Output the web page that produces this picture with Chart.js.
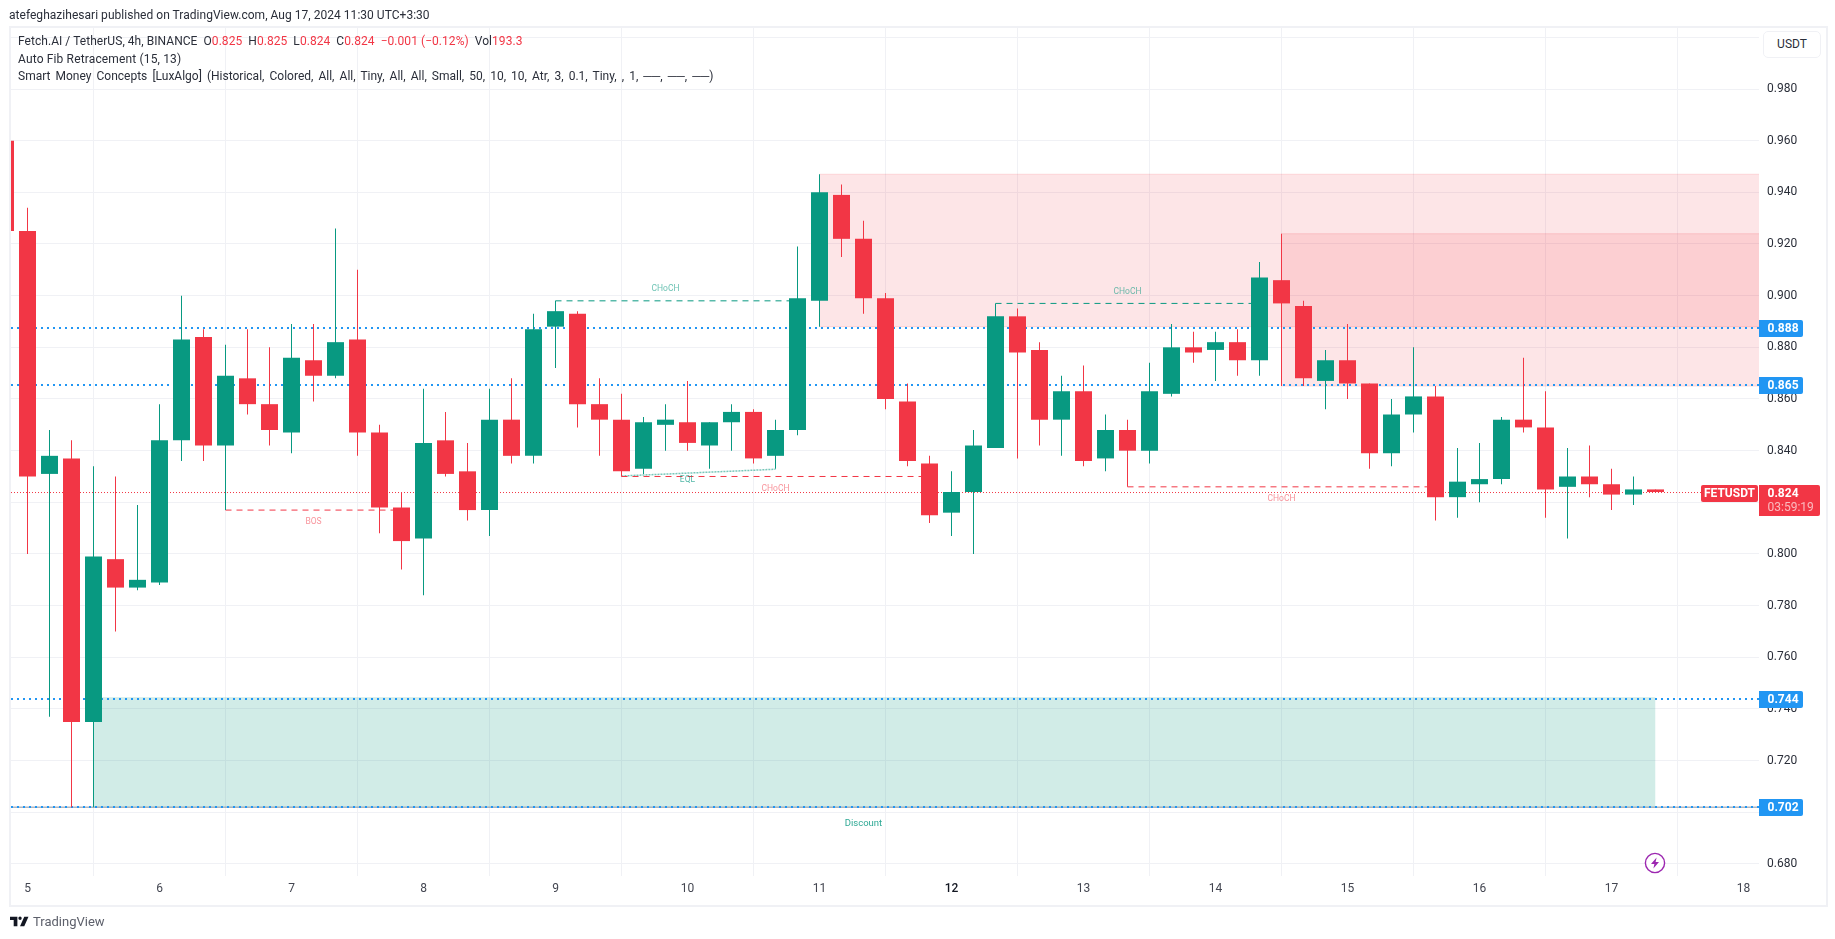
<!DOCTYPE html>
<html>
<head>
<meta charset="utf-8">
<title>FETUSDT</title>
<script src="https://cdn.jsdelivr.net/npm/chart.js@4/dist/chart.umd.js"></script>
<style>
    html, body { margin: 0; padding: 0; background: #fff; }
    body { width: 1835px; height: 939px; position: relative; overflow: hidden; font-family: Roboto, sans-serif; color: #131722; }
    canvas { position: absolute; left: 0; top: 0; }
    .txt { position: absolute; font-size: 12px; line-height: 16px; white-space: nowrap; color: #2a2e39; }
    .red { color: #f23645; }
    #frame { position: absolute; left: 9px; top: 26px; width: 1815px; height: 877px; border: 2px solid #f0f1f5; pointer-events: none; }
    #usdt { position: absolute; left: 1763px; top: 31px; width: 56px; height: 25px; border: 1px solid #f0f1f5; border-radius: 5px; background: #fff; font-size: 12px; line-height: 25px; padding-left: 0; text-align: center; color: #2a2e39; }
    #logo { position: absolute; left: 10px; top: 915px; }
    #brand { position: absolute; left: 33px; top: 913px; font-size: 13px; line-height: 17px; color: #5d606b; }
    #bolt { position: absolute; left: 1644px; top: 852px; }
</style>
</head>
<body>
<canvas id="chart" width="1835" height="939"></canvas>
<div id="frame"></div>
<div class="txt" style="left:9px;top:7px;letter-spacing:0.03px">atefeghazihesari published on TradingView.com, Aug 17, 2024 11:30 UTC+3:30</div>
<div class="txt" style="left:18px;top:33px;letter-spacing:0.05px">Fetch.AI / TetherUS, 4h, BINANCE &nbsp;O<span class="red">0.825</span> &nbsp;H<span class="red">0.825</span> &nbsp;L<span class="red">0.824</span> &nbsp;C<span class="red">0.824</span> &nbsp;<span class="red">−0.001 (−0.12%)</span> &nbsp;Vol<span class="red">193.3</span></div>
<div class="txt" style="left:18px;top:51px;letter-spacing:0.15px">Auto Fib Retracement (15, 13)</div>
<div class="txt" style="left:18px;top:68px;word-spacing:2.1px">Smart Money Concepts [LuxAlgo] (Historical, Colored, All, All, Tiny, All, All, Small, 50, 10, 10, Atr, 3, 0.1, Tiny, , 1, ──, ──, ──)</div>
<div id="usdt">USDT</div>
<svg id="bolt" width="22" height="22" viewBox="0 0 22 22">
    <circle cx="11" cy="11" r="9.6" fill="#fff" stroke="#9c27b0" stroke-width="1.4"/>
    <path d="M12.6 5.5 L7 12 H10.4 L9.4 16.5 L15 10 H11.6 Z" fill="#9c27b0"/>
</svg>
<svg id="logo" width="19" height="13" viewBox="0 0 36 24">
    <path d="M14 3H0v6h7v12h7V3zm13 18h-8l8-18h8l-8 18zM19 9a3.2 3.2 0 1 0 0-6.400a3.200 3.200 0 0 0 0 6.400z" fill="#131722"/>
</svg>
<div id="brand">TradingView</div>
<script>
// Candles, one every 4 hours, the first one is cut off by the left edge
const firstDay = 5 - 1 / 6;
const barsPerDay = 6;
const opens = [0.960, 0.925, 0.831, 0.837, 0.735, 0.798, 0.787, 0.789, 0.844, 0.884, 0.842, 0.868, 0.858, 0.847, 0.875, 0.869, 0.883, 0.847, 0.818, 0.806, 0.844, 0.832, 0.817, 0.852, 0.838, 0.888, 0.893, 0.858, 0.852, 0.833, 0.850, 0.851, 0.842, 0.851, 0.855, 0.838, 0.848, 0.898, 0.939, 0.922, 0.899, 0.859, 0.835, 0.816, 0.824, 0.841, 0.892, 0.879, 0.852, 0.863, 0.837, 0.848, 0.840, 0.862, 0.880, 0.879, 0.882, 0.875, 0.906, 0.896, 0.867, 0.875, 0.866, 0.839, 0.854, 0.861, 0.822, 0.827, 0.829, 0.852, 0.849, 0.826, 0.830, 0.827, 0.823, 0.825];
const highs = [0.960, 0.934, 0.848, 0.844, 0.834, 0.830, 0.819, 0.858, 0.900, 0.887, 0.881, 0.887, 0.880, 0.889, 0.889, 0.926, 0.910, 0.850, 0.824, 0.864, 0.855, 0.843, 0.864, 0.868, 0.893, 0.898, 0.894, 0.868, 0.862, 0.853, 0.858, 0.867, 0.851, 0.858, 0.856, 0.852, 0.919, 0.947, 0.943, 0.929, 0.901, 0.866, 0.838, 0.832, 0.848, 0.897, 0.895, 0.882, 0.869, 0.873, 0.854, 0.852, 0.874, 0.889, 0.886, 0.886, 0.887, 0.913, 0.924, 0.898, 0.879, 0.889, 0.866, 0.860, 0.880, 0.865, 0.841, 0.843, 0.853, 0.876, 0.863, 0.841, 0.842, 0.833, 0.830, 0.825];
const lows = [0.925, 0.800, 0.737, 0.702, 0.702, 0.770, 0.786, 0.788, 0.836, 0.836, 0.817, 0.854, 0.842, 0.839, 0.859, 0.868, 0.838, 0.808, 0.794, 0.784, 0.830, 0.813, 0.807, 0.835, 0.835, 0.872, 0.849, 0.838, 0.830, 0.831, 0.840, 0.840, 0.833, 0.840, 0.835, 0.833, 0.846, 0.888, 0.915, 0.893, 0.856, 0.834, 0.812, 0.807, 0.800, 0.841, 0.837, 0.842, 0.838, 0.834, 0.832, 0.826, 0.835, 0.861, 0.874, 0.867, 0.869, 0.869, 0.865, 0.865, 0.856, 0.860, 0.833, 0.834, 0.847, 0.813, 0.814, 0.820, 0.827, 0.847, 0.814, 0.806, 0.822, 0.817, 0.819, 0.824];
const closes = [0.925, 0.830, 0.838, 0.735, 0.799, 0.787, 0.790, 0.844, 0.883, 0.842, 0.869, 0.858, 0.848, 0.876, 0.869, 0.882, 0.847, 0.818, 0.805, 0.843, 0.831, 0.817, 0.852, 0.838, 0.887, 0.894, 0.858, 0.852, 0.832, 0.851, 0.852, 0.843, 0.851, 0.855, 0.837, 0.848, 0.899, 0.940, 0.922, 0.899, 0.860, 0.836, 0.815, 0.824, 0.842, 0.892, 0.878, 0.852, 0.863, 0.836, 0.848, 0.840, 0.863, 0.880, 0.878, 0.882, 0.875, 0.907, 0.897, 0.868, 0.875, 0.866, 0.839, 0.854, 0.861, 0.822, 0.828, 0.829, 0.852, 0.849, 0.825, 0.830, 0.827, 0.823, 0.825, 0.824];

// Fib levels (unrounded) and their axis labels, then last price
const fibLevels = [0.88748, 0.86542, 0.74387, 0.70207];
const fibLabels = ['0.888', '0.865', '0.744', '0.702'];
const lastPrice = 0.8238;
const lastLabel = '0.824';
const symbolName = 'FETUSDT';
const countdown = '03:59:19';

// Order block zones, bar index where they start and end
const supplyStarts = [37, 58];
const supplyTops = [0.947, 0.924];
const supplyBottoms = [0.888, 0.865];
const demandStart = 4;
const demandEnd = 75;
const demandTop = 0.7445;
const demandBottom = 0.702;
const discountLabel = 'Discount';

// Market structure breaks
const structureNames = ['BOS', 'CHoCH', 'CHoCH', 'CHoCH', 'CHoCH'];
const structurePrices = [0.817, 0.898, 0.830, 0.897, 0.826];
const structureStarts = [10, 25, 28, 45, 51];
const structureEnds = [18, 36, 42, 57, 65];
const structureBullish = [false, true, false, true, false];

// Equal lows
const eqlName = 'EQL';
const eqlStart = 28;
const eqlEnd = 35;
const eqlPrices = [0.8302, 0.8328];

const upColor = '#089981';
const downColor = '#f23645';
const fibColor = '#2196f3';
const gridColor = '#f0f1f5';

const barDay = (i) => firstDay + i / barsPerDay;
const minDay = 4.875;
const maxDay = minDay + 1748 / 132;
const pairLine = (i0, i1, y0, y1) => [{ x: barDay(i0), y: y0 }, { x: barDay(i1), y: y1 }];
const spanLine = (y) => [{ x: minDay, y: y }, { x: maxDay, y: y }];

const barColors = closes.map((c, i) => (c >= opens[i] ? upColor : downColor));

const datasets = [];

// Zones sit behind everything else
supplyStarts.forEach((start, i) => {
    const zoneStyle = { type: 'line', pointRadius: 0, borderWidth: 1, borderColor: 'rgba(242,54,69,0.15)', order: 9 };
    datasets.push({ ...zoneStyle, data: [{ x: barDay(start), y: supplyTops[i] }, { x: maxDay, y: supplyTops[i] }], fill: { value: supplyBottoms[i] }, backgroundColor: 'rgba(242,54,69,0.13)' });
    datasets.push({ ...zoneStyle, data: [{ x: barDay(start), y: supplyBottoms[i] }, { x: maxDay, y: supplyBottoms[i] }], fill: false });
});
datasets.push({ type: 'line', data: pairLine(demandStart, demandEnd, demandTop, demandTop), fill: { value: demandBottom }, backgroundColor: 'rgba(8,153,129,0.19)', borderWidth: 0, pointRadius: 0, order: 9 });

// Grey line under the swing low
datasets.push({ type: 'line', data: spanLine(demandBottom), borderColor: '#8a919e', borderWidth: 1, pointRadius: 0, fill: false, order: 8 });

// Fib lines and last price line
fibLevels.forEach((level) => {
    datasets.push({ type: 'line', data: spanLine(level), borderColor: fibColor, borderWidth: 2, borderDash: [2, 4], pointRadius: 0, fill: false, order: 7 });
});
datasets.push({ type: 'line', data: spanLine(lastPrice), borderColor: downColor, borderWidth: 1, borderDash: [1, 2], pointRadius: 0, fill: false, order: 7 });

// Structure lines
structureNames.forEach((name, i) => {
    datasets.push({
        type: 'line',
        data: pairLine(structureStarts[i], structureEnds[i], structurePrices[i], structurePrices[i]),
        borderColor: structureBullish[i] ? upColor : downColor,
        borderWidth: 1,
        borderDash: [6, 5],
        pointRadius: 0,
        fill: false,
        order: 6,
    });
});
datasets.push({ type: 'line', data: pairLine(eqlStart, eqlEnd, eqlPrices[0], eqlPrices[1]), borderColor: 'rgba(8,153,129,0.55)', borderWidth: 1.5, borderDash: [2, 1], pointRadius: 0, fill: false, order: 6 });

// Candles, wicks first then bodies
datasets.push({
    type: 'bar',
    data: closes.map((c, i) => ({ x: barDay(i), y: [lows[i], highs[i]] })),
    backgroundColor: barColors,
    grouped: false,
    barThickness: 1,
    maxBarThickness: 1,
    inflateAmount: 0,
    order: 2,
});
datasets.push({
    type: 'bar',
    data: closes.map((c, i) => ({ x: barDay(i), y: [opens[i], c] })),
    backgroundColor: barColors,
    grouped: false,
    barThickness: 17,
    maxBarThickness: 17,
    inflateAmount: 0,
    order: 1,
});

// Small texts on the pane and the boxes on the price axis
const overlayPlugin = {
    id: 'overlay',
    afterDatasetsDraw(chart) {
        const { ctx, scales: { x, y } } = chart;
        ctx.save();
        ctx.textAlign = 'center';
        ctx.textBaseline = 'middle';

        ctx.font = '8.5px Roboto';
        structureNames.forEach((name, i) => {
            const mid = Math.floor((structureStarts[i] + structureEnds[i]) / 2);
            const offset = structureBullish[i] ? -12 : 12;
            ctx.fillStyle = structureBullish[i] ? 'rgba(8,153,129,0.6)' : 'rgba(242,54,69,0.55)';
            ctx.fillText(name, x.getPixelForValue(barDay(mid)), y.getPixelForValue(structurePrices[i]) + offset);
        });
        ctx.fillStyle = 'rgba(8,153,129,0.7)';
        ctx.fillText(eqlName, x.getPixelForValue(barDay(Math.floor((eqlStart + eqlEnd) / 2))), y.getPixelForValue(eqlPrices[0]) + 4);

        ctx.font = '9.5px Roboto';
        ctx.fillStyle = 'rgba(8,153,129,0.85)';
        ctx.fillText(discountLabel, x.getPixelForValue(barDay(Math.floor((demandStart + demandEnd) / 2))), y.getPixelForValue(demandBottom) + 16);
        ctx.restore();
    },
    afterDraw(chart) {
        const { ctx, scales: { y } } = chart;
        const axisLeft = y.left;
        ctx.save();
        ctx.textBaseline = 'middle';
        ctx.textAlign = 'left';

        fibLevels.forEach((level, i) => {
            const py = Math.round(y.getPixelForValue(level));
            ctx.fillStyle = fibColor;
            ctx.beginPath();
            ctx.roundRect(axisLeft, py - 8, 44, 17, [0, 2, 2, 0]);
            ctx.fill();
            ctx.fillStyle = '#fff';
            ctx.font = 'bold 12px Roboto';
            ctx.fillText(fibLabels[i], axisLeft + 8.5, py + 1);
        });

        const py = Math.round(y.getPixelForValue(lastPrice));
        ctx.fillStyle = downColor;
        ctx.beginPath();
        ctx.roundRect(axisLeft - 58, py - 8, 57, 17, 2);
        ctx.fill();
        ctx.beginPath();
        ctx.roundRect(axisLeft, py - 8, 61, 31, [0, 2, 2, 0]);
        ctx.fill();

        ctx.fillStyle = '#fff';
        ctx.font = 'bold 12px Roboto';
        ctx.fillText(lastLabel, axisLeft + 8.5, py + 1);
        ctx.textAlign = 'center';
        ctx.fillText(symbolName, axisLeft - 29.5, py + 1);
        ctx.textAlign = 'left';
        ctx.fillStyle = 'rgba(255,255,255,0.65)';
        ctx.font = '12px Roboto';
        ctx.fillText(countdown, axisLeft + 8.5, py + 15);
        ctx.restore();
    },
};

Chart.defaults.font.family = 'Roboto';

const isBoldDay = (ctx) => ctx.tick && ctx.tick.value === 12;

new Chart(document.getElementById('chart'), {
    type: 'bar',
    data: { datasets: datasets },
    plugins: [overlayPlugin],
    options: {
        responsive: false,
        animation: false,
        events: [],
        layout: { padding: { left: 11, top: 28, right: 0, bottom: 0 } },
        elements: { line: { tension: 0 } },
        scales: {
            x: {
                type: 'linear',
                offset: false,
                min: minDay,
                max: maxDay,
                afterFit(scale) { scale.height = 63; },
                border: { display: false },
                grid: { color: gridColor, lineWidth: 1, drawTicks: false },
                ticks: {
                    stepSize: 1,
                    includeBounds: false,
                    autoSkip: false,
                    maxRotation: 0,
                    padding: 6,
                    color: (ctx) => (isBoldDay(ctx) ? '#131722' : '#434651'),
                    font: (ctx) => ({ size: 12, weight: isBoldDay(ctx) ? '500' : 'normal' }),
                    callback: (value) => String(value),
                },
            },
            y: {
                type: 'linear',
                position: 'right',
                min: 0.98 - 787 / 2583.33,
                max: 0.98 + 61 / 2583.33,
                afterFit(scale) { scale.width = 76; },
                border: { display: false },
                grid: { color: gridColor, lineWidth: 1, drawTicks: false },
                ticks: {
                    stepSize: 0.02,
                    includeBounds: false,
                    autoSkip: false,
                    padding: 8,
                    color: '#2a2e39',
                    font: { size: 12 },
                    callback: (value) => (value > 0.99 ? '' : value.toFixed(3)),
                },
            },
        },
        plugins: { legend: { display: false }, tooltip: { enabled: false }, title: { display: false } },
    },
});
</script>
</body>
</html>
